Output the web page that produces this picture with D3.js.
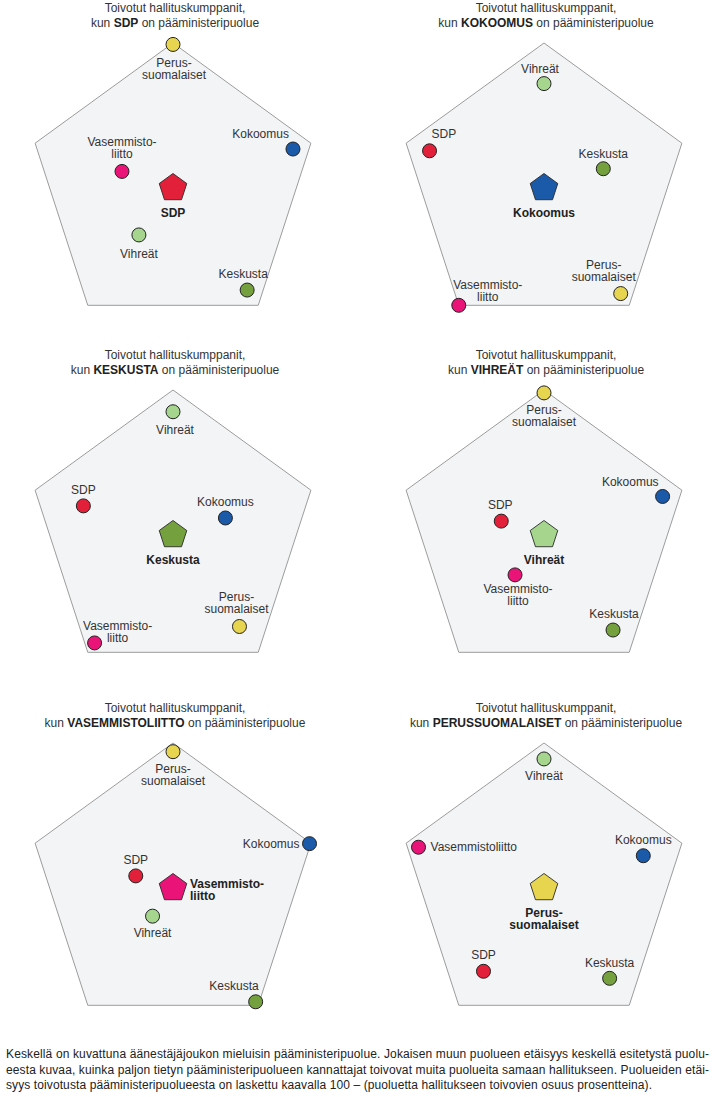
<!DOCTYPE html>
<html>
<head>
<meta charset="utf-8">
<script src="https://cdn.jsdelivr.net/npm/d3@7"></script>
<style>
  html, body { margin: 0; padding: 0; background: #ffffff; }
  svg { display: block; }
  text { font-family: "Liberation Sans", Arial, sans-serif; }
</style>
</head>
<body>
<div id="chart"></div>
<script>
// ---------------- DATA ----------------
const centerParties = ["SDP", "Kokoomus", "Keskusta", "Vihreät", "Vasemmistoliitto", "Perussuomalaiset"];

// parties placed on the five pentagon axes: [top, upper-right, lower-right, lower-left, upper-left]
const axisParties = [
  ["Perussuomalaiset", "Kokoomus", "Keskusta", "Vihreät", "Vasemmistoliitto"],
  ["Vihreät", "Keskusta", "Perussuomalaiset", "Vasemmistoliitto", "SDP"],
  ["Vihreät", "Kokoomus", "Perussuomalaiset", "Vasemmistoliitto", "SDP"],
  ["Perussuomalaiset", "Kokoomus", "Keskusta", "Vasemmistoliitto", "SDP"],
  ["Perussuomalaiset", "Kokoomus", "Keskusta", "Vihreät", "SDP"],
  ["Vihreät", "Kokoomus", "Keskusta", "SDP", "Vasemmistoliitto"]
];

// distance = 100 - (share wanting the party in government, %)
const distances = [
  [99, 87, 87, 40, 37],
  [72, 43, 90, 100, 83],
  [85, 38, 78, 92, 65],
  [98, 86, 81, 34, 31],
  [94, 99, 97, 24, 27],
  [89, 72, 77, 71, 91]
];

const titleLine1 = "Toivotut hallituskumppanit,";
const titlePre = "kun ";
const titlePost = " on pääministeripuolue";

const footnoteLines = [
  "Keskellä on kuvattuna äänestäjäjoukon mieluisin pääministeripuolue. Jokaisen muun puolueen etäisyys keskellä esitetystä puolu-",
  "eesta kuvaa, kuinka paljon tietyn pääministeripuolueen kannattajat toivovat muita puolueita samaan hallitukseen. Puolueiden etäi-",
  "syys toivotusta pääministeripuolueesta on laskettu kaavalla 100 – (puoluetta hallitukseen toivovien osuus prosentteina)."
];

// ---------------- STYLE / LAYOUT ----------------
const partyColors = {
  "SDP": "#e3203a",
  "Kokoomus": "#1a5aa8",
  "Keskusta": "#74a03e",
  "Vihreät": "#a6d68e",
  "Perussuomalaiset": "#e8d54f",
  "Vasemmistoliitto": "#ea1478"
};

const W = 720, H = 1097;
const R = 145;
const colX = [173, 544];
const rowY = [188, 535, 888];

// label placement for each axis dot (lines, anchor, dx, dy of first baseline)
const L = (lines, a, dx, dy) => ({lines, a, dx, dy});
const PS = ["Perus-", "suomalaiset"], VL = ["Vasemmisto-", "liitto"];
const labelLayout = [
  [L(PS, "middle", 1, 23), L(["Kokoomus"], "end", -4, -11), L(["Keskusta"], "middle", -4, -12), L(["Vihreät"], "middle", 0, 23), L(VL, "middle", 0, -25)],
  [L(["Vihreät"], "middle", -4, -11), L(["Keskusta"], "middle", 0, -11), L(PS, "middle", -17, -25), L(VL, "middle", 29, -16), L(["SDP"], "start", 2, -13)],
  [L(["Vihreät"], "middle", 2, 22), L(["Kokoomus"], "middle", 0, -12), L(PS, "middle", -3, -25), L(VL, "middle", 23, -13), L(["SDP"], "middle", 0, -12)],
  [L(PS, "middle", 0, 21), L(["Kokoomus"], "end", -4, -10), L(["Keskusta"], "middle", 1, -12), L(VL, "middle", 3, 18), L(["SDP"], "middle", -1, -12)],
  [L(PS, "middle", 0, 21), L(["Kokoomus"], "end", -10, 4), L(["Keskusta"], "end", 3, -12), L(["Vihreät"], "middle", 0, 21), L(["SDP"], "middle", 0, -12)],
  [L(["Vihreät"], "middle", 0, 21), L(["Kokoomus"], "middle", 0, -12), L(["Keskusta"], "middle", 0, -11), L(["SDP"], "middle", 0, -12), L(["Vasemmistoliitto"], "start", 12, 4)]
];
const centerLabelLayout = [
  L(["SDP"], "middle", 0, 28.5),
  L(["Kokoomus"], "middle", 0, 28.5),
  L(["Keskusta"], "middle", 0, 28.5),
  L(["Vihreät"], "middle", 0, 28.5),
  L(VL, "start", 17, 0),
  L(PS, "middle", 0, 28.5)
];
const lineStep = 12;

// ---------------- DRAW ----------------
const svg = d3.select("#chart").append("svg")
  .attr("width", W).attr("height", H)
  .attr("viewBox", `0 0 ${W} ${H}`);

svg.append("rect").attr("width", W).attr("height", H).attr("fill", "#ffffff");

const rScale = d3.scaleLinear().domain([0, 100]).range([0, R]);
const axisAngles = d3.range(5).map(k => (-90 + 72 * k) * Math.PI / 180);
const pt = (angle, r) => [Math.cos(angle) * r, Math.sin(angle) * r];
const lineGen = d3.line().curve(d3.curveLinearClosed);

function drawLabel(g, layout, x, y, weight, color) {
  const t = g.append("text")
    .attr("text-anchor", layout.a)
    .attr("font-size", 12)
    .attr("font-weight", weight)
    .attr("fill", color);
  layout.lines.forEach((ln, i) => {
    t.append("tspan")
      .attr("x", x + layout.dx)
      .attr("y", y + layout.dy + i * lineStep)
      .text(ln);
  });
}

centerParties.forEach((cp, p) => {
  const cx = colX[p % 2], cy = rowY[Math.floor(p / 2)];
  const g = svg.append("g").attr("transform", `translate(${cx},${cy})`);

  // title
  const tt = g.append("text")
    .attr("text-anchor", "middle")
    .attr("font-size", 12)
    .attr("fill", "#333");
  tt.append("tspan").attr("x", 2).attr("y", -176).text(titleLine1);
  const l2 = tt.append("tspan").attr("x", 2).attr("y", -161);
  l2.append("tspan").text(titlePre);
  l2.append("tspan").attr("font-weight", "bold").attr("fill", "#222").text(cp.toUpperCase());
  l2.append("tspan").text(titlePost);

  // background pentagon
  g.append("path")
    .attr("d", lineGen(axisAngles.map(a => pt(a, rScale(100)))))
    .attr("fill", "#f3f4f6")
    .attr("stroke", "#9c9c9c")
    .attr("stroke-width", 1);

  // center party marker (pentagon)
  g.append("path")
    .attr("d", lineGen(axisAngles.map(a => pt(a, 14.5))))
    .attr("fill", partyColors[cp])
    .attr("stroke", "#2a2a2a")
    .attr("stroke-width", 0.9);
  drawLabel(g, centerLabelLayout[p], 0, 0, "bold", "#222");

  // partner parties
  const pts = axisParties[p].map((party, k) => {
    const [x, y] = pt(axisAngles[k], rScale(distances[p][k]));
    return {party, x, y, k};
  });

  g.selectAll("circle.dot").data(pts).join("circle")
    .attr("class", "dot")
    .attr("cx", d => d.x).attr("cy", d => d.y)
    .attr("r", 7)
    .attr("fill", d => partyColors[d.party])
    .attr("stroke", "#222")
    .attr("stroke-width", 1);

  pts.forEach(d => drawLabel(g, labelLayout[p][d.k], d.x, d.y, "normal", "#333"));
});

// footnote
const fn = svg.append("text").attr("font-size", 12).attr("fill", "#222");
const fnWidths = [703, 703, 646];
footnoteLines.forEach((ln, i) => {
  fn.append("tspan")
    .attr("x", 6)
    .attr("y", 1058 + i * 15.5)
    .attr("textLength", fnWidths[i])
    .attr("lengthAdjust", "spacing")
    .text(ln);
});
</script>
</body>
</html>
